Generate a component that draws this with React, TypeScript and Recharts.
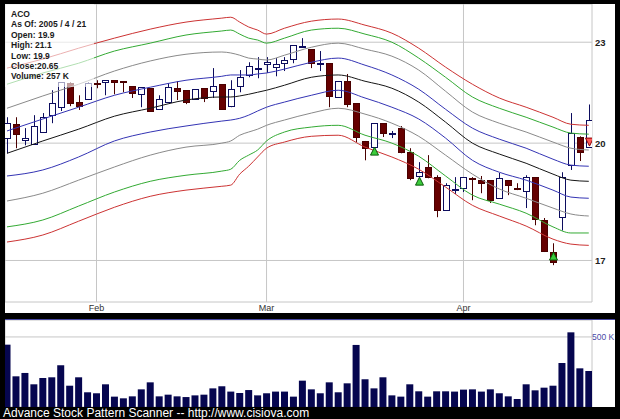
import {
  ComposedChart,
  Bar,
  Line,
  Scatter,
  XAxis,
  YAxis,
  CartesianGrid,
} from 'recharts'

const FONT = '"Liberation Sans", Arial, sans-serif'

// daily OHLC, 2005-01-18 .. 2005-04-21
const opens = [
  20.14, 20.53, 20.08, 19.97, 20.31, 20.79, 21.02, 21.73, 21.17, 21.26,
  21.73, 21.76, 21.82, 21.79, 21.64, 21.4, 21.58, 20.96, 21.17, 21.58,
  21.52, 21.26, 21.58, 21.49, 21.7, 21.05, 21.64, 21.98, 22.17, 22.31,
  22.22, 22.34, 22.47, 22.84, 22.78, 22.34, 22.34, 21.32, 21.79, 21.14,
  20.06, 19.89, 20.56, 20.27, 20.42, 19.75, 19.11, 19.35, 19.08, 18.23,
  18.77, 18.79, 19.05, 19.0, 19.0, 18.53, 19.0, 18.8, 18.71, 19.08,
  17.98, 17.2, 18.05, 19.4, 20.17, 19.9,
]
const highs = [
  20.73, 20.73, 20.42, 20.79, 20.85, 21.52, 21.76, 21.76, 21.37, 21.76,
  21.82, 21.82, 21.82, 21.79, 21.64, 21.61, 21.58, 21.37, 21.73, 21.79,
  21.52, 21.55, 21.58, 22.19, 21.7, 21.82, 22.13, 22.37, 22.53, 22.53,
  22.5, 22.53, 22.91, 23.13, 22.78, 22.72, 22.34, 21.79, 22.01, 21.14,
  20.06, 20.56, 20.56, 20.34, 20.48, 19.86, 19.48, 19.67, 19.13, 18.92,
  19.08, 19.08, 19.08, 19.11, 19.0, 19.19, 19.0, 18.92, 19.13, 19.08,
  18.03, 17.41, 19.21, 20.85, 20.19, 21.1,
]
const lows = [
  19.72, 19.86, 19.94, 19.97, 20.31, 20.56, 20.91, 21.05, 20.94, 21.26,
  21.58, 21.37, 21.4, 21.46, 21.29, 21.02, 20.91, 20.94, 21.14, 21.23,
  21.11, 21.26, 21.17, 21.29, 20.96, 21.02, 21.46, 21.91, 21.88, 22.04,
  21.94, 22.1, 22.34, 22.84, 22.19, 22.1, 21.02, 21.32, 21.02, 20.03,
  19.53, 19.89, 20.17, 20.14, 19.72, 19.0, 19.11, 19.05, 18.05, 18.23,
  18.64, 18.69, 18.48, 18.66, 18.41, 18.53, 18.61, 18.74, 18.28, 17.85,
  17.2, 16.89, 17.72, 19.27, 19.51, 19.9,
]
const closes = [
  20.56, 20.25, 20.14, 20.48, 20.73, 21.14, 21.76, 21.14, 21.05, 21.73,
  21.72, 21.82, 21.76, 21.76, 21.43, 21.61, 20.91, 21.26, 21.61, 21.49,
  21.17, 21.55, 21.29, 21.64, 20.96, 21.55, 21.91, 22.25, 22.19, 22.37,
  22.31, 22.44, 22.91, 22.88, 22.34, 22.35, 21.35, 21.79, 21.11, 20.17,
  19.86, 20.56, 20.28, 20.28, 19.75, 19.05, 19.21, 19.08, 18.23, 18.87,
  18.78, 19.08, 19.03, 18.92, 18.48, 19.05, 18.87, 18.79, 19.08, 18.0,
  17.22, 16.96, 19.08, 20.28, 19.75, 20.65,
]
// volume in thousands
const volumeK = [
  445, 219, 243, 162, 207, 212, 298, 152, 212, 105,
  98, 162, 74, 62, 76, 126, 176, 76, 88, 76,
  71, 83, 88, 133, 148, 110, 100, 121, 83, 98,
  110, 110, 74, 188, 126, 98, 176, 105, 169, 443,
  198, 133, 212, 83, 74, 162, 112, 74, 112, 112,
  110, 124, 126, 110, 126, 98, 76, 57, 162, 119,
  138, 152, 314, 533, 276, 257,
]

const monthTicks = [10, 29, 51]
const monthLabels = ['Feb', 'Mar', 'Apr']
const priceTicks = [17, 20, 23]
const volumeTicks = [500]

// channel lines, read at these candle indexes
const bandIdx = [0, 4, 8, 12, 16, 20, 24, 25, 26, 27, 28, 29, 31, 34, 37, 40, 43, 46, 49, 52, 55, 58, 61, 63, 65]
const redUpper = [22.19, 22.47, 22.81, 23.13, 23.42, 23.65, 23.78, 23.81, 23.65, 23.49, 23.39, 23.26, 23.45, 23.68, 23.75, 23.55, 23.29, 22.81, 22.22, 21.7, 21.29, 21.02, 20.73, 20.53, 20.5]
const greenUpper = [21.7, 22.04, 22.34, 22.72, 22.97, 23.23, 23.36, 23.39, 23.26, 23.13, 23.07, 22.97, 23.13, 23.39, 23.45, 23.26, 23.0, 22.5, 21.91, 21.32, 20.99, 20.73, 20.45, 20.28, 20.25]
const grayUpper = [20.99, 21.35, 21.7, 22.1, 22.41, 22.62, 22.69, 22.66, 22.59, 22.5, 22.47, 22.44, 22.59, 22.84, 22.97, 22.78, 22.56, 22.13, 21.49, 20.88, 20.56, 20.31, 20.03, 19.86, 19.81]
const blueUpper = [20.34, 20.68, 21.02, 21.37, 21.61, 21.82, 21.94, 21.98, 21.98, 21.98, 22.01, 22.04, 22.16, 22.37, 22.5, 22.28, 21.98, 21.55, 20.96, 20.42, 20.11, 19.86, 19.56, 19.4, 19.37]
const center = [19.72, 20.06, 20.39, 20.76, 20.99, 21.23, 21.32, 21.32, 21.35, 21.4, 21.46, 21.52, 21.67, 21.91, 21.98, 21.79, 21.58, 21.17, 20.59, 20.0, 19.7, 19.45, 19.16, 19.0, 18.97]
const blueLower = [19.11, 19.27, 19.62, 20.06, 20.31, 20.48, 20.62, 20.65, 20.7, 20.79, 20.91, 21.02, 21.17, 21.37, 21.52, 21.29, 21.02, 20.68, 20.14, 19.53, 19.21, 19.0, 18.74, 18.56, 18.53]
const grayLower = [18.46, 18.66, 19.0, 19.35, 19.67, 19.89, 20.0, 20.06, 20.22, 20.31, 20.39, 20.5, 20.65, 20.85, 20.99, 20.82, 20.56, 20.19, 19.67, 19.16, 18.77, 18.53, 18.28, 18.13, 18.08]
const greenLower = [17.81, 17.98, 18.33, 18.69, 18.97, 19.13, 19.24, 19.29, 19.53, 19.67, 19.81, 20.06, 20.31, 20.45, 20.5, 20.22, 20.0, 19.64, 19.11, 18.61, 18.38, 18.15, 17.81, 17.66, 17.66]
const redLower = [17.44, 17.61, 17.95, 18.3, 18.58, 18.74, 18.84, 18.87, 19.16, 19.37, 19.62, 19.86, 20.03, 20.19, 20.22, 19.89, 19.62, 19.29, 18.82, 18.35, 18.08, 17.83, 17.51, 17.39, 17.36]

// signal markers
const buyIdx = [41, 46, 61]
const buyPrice = [19.89, 19.08, 17.2]
const sellIdx = [65]
const sellPrice = [20.14]

const bands = [
  { key: 'redUp', values: redUpper, color: '#cc3333' },
  { key: 'greenUp', values: greenUpper, color: '#33aa33' },
  { key: 'grayUp', values: grayUpper, color: '#8a8a8a' },
  { key: 'blueUp', values: blueUpper, color: '#3434b4' },
  { key: 'mid', values: center, color: '#151515' },
  { key: 'blueLo', values: blueLower, color: '#3434b4' },
  { key: 'grayLo', values: grayLower, color: '#8a8a8a' },
  { key: 'greenLo', values: greenLower, color: '#33aa33' },
  { key: 'redLo', values: redLower, color: '#cc3333' },
]

const rows: any[] = opens.map((open, i) => ({
  i,
  open,
  high: highs[i],
  low: lows[i],
  close: closes[i],
  range: [lows[i], highs[i]],
  vol: volumeK[i],
}))
bandIdx.forEach((idx, k) => {
  bands.forEach((b) => {
    rows[idx][b.key] = b.values[k]
  })
})

const buyData = buyIdx.map((i, k) => ({ i, v: buyPrice[k] }))
const sellData = sellIdx.map((i, k) => ({ i, v: sellPrice[k] }))

const X_DOMAIN: [number, number] = [-0.223, 65.36]

function Candle(props: any) {
  const { x, y, width, height, payload } = props
  const { open, close, high, low } = payload
  const lh = Math.log(high)
  const ll = Math.log(low)
  const toY = (v: number) => y + ((lh - Math.log(v)) / (lh - ll)) * height
  const cx = Math.round(x + width / 2)
  const up = close >= open
  const top = Math.round(toY(Math.max(open, close)))
  const bot = Math.round(toY(Math.min(open, close)))
  const edge = up ? '#0c0c5e' : '#4a0000'
  return (
    <g>
      <line x1={cx + 0.5} x2={cx + 0.5} y1={y} y2={y + height} stroke={edge} strokeWidth={1} />
      <rect
        x={cx - 2.5}
        y={top + 0.5}
        width={6}
        height={Math.max(bot - top, 1)}
        fill={up ? '#ffffff' : '#660000'}
        stroke={edge}
        strokeWidth={1}
      />
    </g>
  )
}

function BuyMark(props: any) {
  const { cx, cy } = props
  const x = Math.round(cx) + 0.5
  return (
    <polygon
      points={`${x},${cy} ${x - 4},${cy + 8} ${x + 4},${cy + 8}`}
      fill="#3ccc3c"
      stroke="#0a5a0a"
      strokeWidth={1}
    />
  )
}

function SellMark(props: any) {
  const { cx, cy } = props
  const x = Math.round(cx) + 0.5
  return (
    <polygon
      points={`${x - 4},${cy} ${x + 4},${cy} ${x},${cy + 8}`}
      fill="#ff5a5a"
      stroke="#8a0000"
      strokeWidth={1}
    />
  )
}

function VolumeTick(props: any) {
  const { x, y, payload } = props
  return (
    <text x={x} y={y} dy="0.355em" textAnchor="start" fill="#4a4aa6" fontSize={8.5} fontFamily={FONT}>
      {`${payload.value} K`}
    </text>
  )
}

const legendLines = [
  'ACO',
  'As Of: 2005 / 4 / 21',
  'Open: 19.9',
  'High: 21.1',
  'Low: 19.9',
  'Close:20.65',
  'Volume: 257 K',
]

export default function App() {
  return (
    <div
      style={{
        position: 'absolute',
        left: 0,
        top: 0,
        width: 620,
        height: 419,
        background: '#000000',
        fontFamily: FONT,
        overflow: 'hidden',
      }}
    >
      <div style={{ position: 'absolute', left: 5, top: 4, width: 610, height: 309, background: '#ffffff' }}>
        <ComposedChart width={610} height={309} data={rows} margin={{ top: 0, right: 0, bottom: 0, left: 0 }}>
          <CartesianGrid stroke="#c6c6c6" />
          <XAxis
            dataKey="i"
            type="number"
            domain={X_DOMAIN}
            allowDataOverflow
            ticks={monthTicks}
            interval={0}
            tickFormatter={(v: number) => monthLabels[monthTicks.indexOf(v)]}
            axisLine={false}
            tickLine={false}
            tickSize={0}
            tickMargin={3}
            height={11}
            tick={{ fill: '#333333', fontSize: 9, fontFamily: FONT }}
          />
          <YAxis
            orientation="right"
            scale="log"
            domain={[16.05, 24.25]}
            allowDataOverflow
            ticks={priceTicks}
            interval={0}
            axisLine={false}
            tickLine={false}
            tickSize={0}
            tickMargin={3}
            width={23}
            tick={{ fill: '#222222', fontSize: 9.5, fontWeight: 'bold', fontFamily: FONT }}
          />
          {bands.map((b) => (
            <Line
              key={b.key}
              dataKey={b.key}
              type="monotone"
              stroke={b.color}
              strokeWidth={1}
              dot={false}
              connectNulls
              isAnimationActive={false}
            />
          ))}
          <Bar dataKey="range" barSize={7} shape={<Candle />} isAnimationActive={false} />
          <Scatter data={buyData} dataKey="v" shape={<BuyMark />} isAnimationActive={false} />
          <Scatter data={sellData} dataKey="v" shape={<SellMark />} isAnimationActive={false} />
        </ComposedChart>
        <div
          style={{
            position: 'absolute',
            left: 0,
            top: 0,
            width: 89,
            height: 83,
            background: 'rgba(255,255,255,0.62)',
            paddingLeft: 6,
            paddingTop: 5,
            boxSizing: 'border-box',
          }}
        >
          {legendLines.map((t) => (
            <div
              key={t}
              style={{ fontSize: 8.5, fontWeight: 'bold', lineHeight: '10.4px', color: '#1a1a1a', whiteSpace: 'nowrap' }}
            >
              {t}
            </div>
          ))}
        </div>
      </div>

      <div
        style={{
          position: 'absolute',
          left: 5,
          top: 319,
          width: 610,
          height: 88,
          background: '#ffffff',
          borderTop: '1px solid #4646a0',
          boxSizing: 'border-box',
        }}
      >
        <ComposedChart width={610} height={87} data={rows} margin={{ top: 0, right: 0, bottom: 0, left: 0 }}>
          <CartesianGrid stroke="#c6c6c6" />
          <XAxis
            dataKey="i"
            type="number"
            domain={X_DOMAIN}
            allowDataOverflow
            ticks={monthTicks}
            interval={0}
            tick={false}
            axisLine={false}
            tickLine={false}
            height={0}
          />
          <YAxis
            orientation="right"
            domain={[0, 621]}
            allowDataOverflow
            ticks={volumeTicks}
            interval={0}
            axisLine={false}
            tickLine={false}
            tickSize={0}
            tickMargin={0}
            width={23}
            tick={<VolumeTick />}
          />
          <Bar dataKey="vol" barSize={7} fill="#06064f" isAnimationActive={false} />
        </ComposedChart>
      </div>

      <div
        style={{
          position: 'absolute',
          left: 3,
          top: 407,
          fontSize: 12,
          lineHeight: '12px',
          color: '#ffffff',
          whiteSpace: 'nowrap',
        }}
      >
        Advance Stock Pattern Scanner -- http://www.cisiova.com
      </div>
    </div>
  )
}
